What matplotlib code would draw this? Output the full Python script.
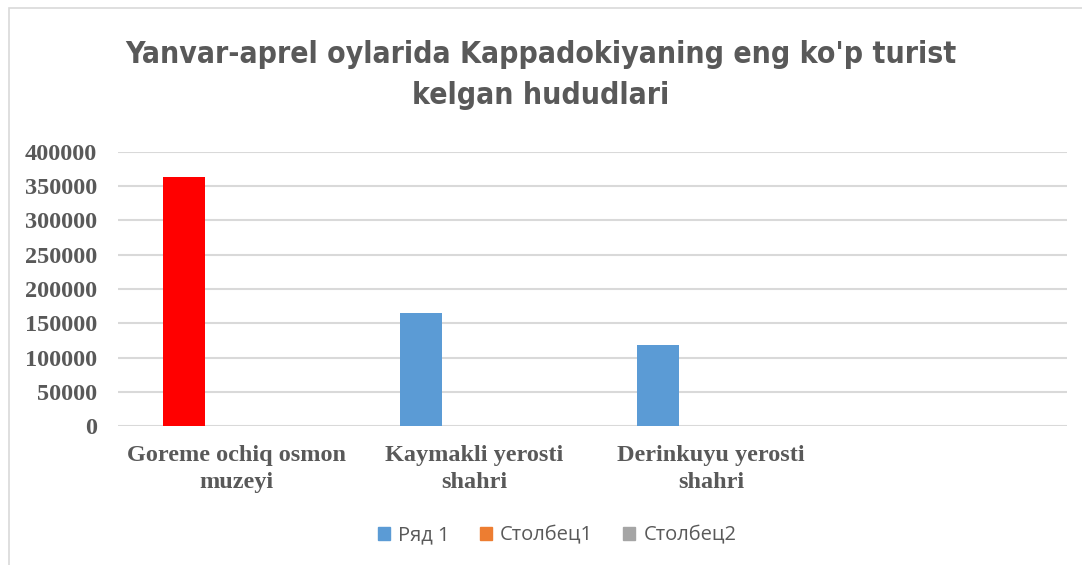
import numpy as np
import matplotlib.pyplot as plt
from matplotlib.patches import Rectangle

# Ma'lumotlar
categories = ["Goreme ochiq osmon\nmuzeyi", "Kaymakli yerosti\nshahri",
              "Derinkuyu yerosti\nshahri", ""]
series_names = ["Ряд 1", "Столбец1", "Столбец2"]
ryad1 = [363000, 164500, 118500, np.nan]
stolbec1 = [np.nan, np.nan, np.nan, np.nan]
stolbec2 = [np.nan, np.nan, np.nan, np.nan]
yticks = [0, 50000, 100000, 150000, 200000, 250000, 300000, 350000, 400000]

blue = "#5B9BD5"
orange = "#ED7D31"
grey = "#A5A5A5"
ryad1_colors = ["#FF0000", blue, blue, blue]
text_col = "#595959"

fig = plt.figure(figsize=(10.82, 5.65), dpi=100)
ax = fig.add_axes([118 / 1082, 1 - 426 / 565, 949 / 1082, 274 / 565])

# chegarasi
fig.patches.append(Rectangle((9 / 1082, -0.1), 1.2, 1 - 8 / 565 + 0.1,
                             transform=fig.transFigure, fill=False,
                             edgecolor="#d9d9d9", linewidth=1.2))

x = np.arange(len(categories))
w = 0.177
step = 0.222
ax.bar(x - step, ryad1, w, color=ryad1_colors, label=series_names[0], zorder=3)
ax.bar(x, stolbec1, w, color=orange, label=series_names[1], zorder=3)
ax.bar(x + step, stolbec2, w, color=grey, label=series_names[2], zorder=3)

ax.set_xlim(-0.5, len(categories) - 0.5)
ax.set_ylim(0, 400000)
ax.set_yticks(yticks)
ax.set_yticklabels([str(v) for v in yticks], family="Liberation Serif",
                   fontweight="bold", fontsize=17.5, color=text_col)
ax.set_xticks(x)
ax.set_xticklabels(categories, family="Liberation Serif", fontweight="bold",
                   fontsize=17.5, color=text_col, linespacing=1.35)
ax.tick_params(axis="y", length=0, pad=15)
ax.tick_params(axis="x", length=0, pad=14)
ax.grid(axis="y", color="#d9d9d9", linewidth=1.5, zorder=0)
for s in ax.spines.values():
    s.set_visible(False)

fig.text(0.5, 0.867, "Yanvar-aprel oylarida Kappadokiyaning eng ko'p turist\nkelgan hududlari",
         ha="center", va="center", fontsize=21.6, fontweight="bold",
         family="DejaVu Sans", fontstretch="condensed", color=text_col,
         linespacing=1.5)

# legend
handles = [Rectangle((0, 0), 1, 1, color=c) for c in (blue, orange, grey)]
fig.legend(handles, series_names, loc="center", bbox_to_anchor=(0.515, 0.052),
           ncol=3, frameon=False, handlelength=0.6, handleheight=0.6,
           handletextpad=0.4, columnspacing=1.5,
           prop={"family": "Open Sans", "size": 14.5}, labelcolor=text_col)

fig.savefig("out.png", dpi=100)
